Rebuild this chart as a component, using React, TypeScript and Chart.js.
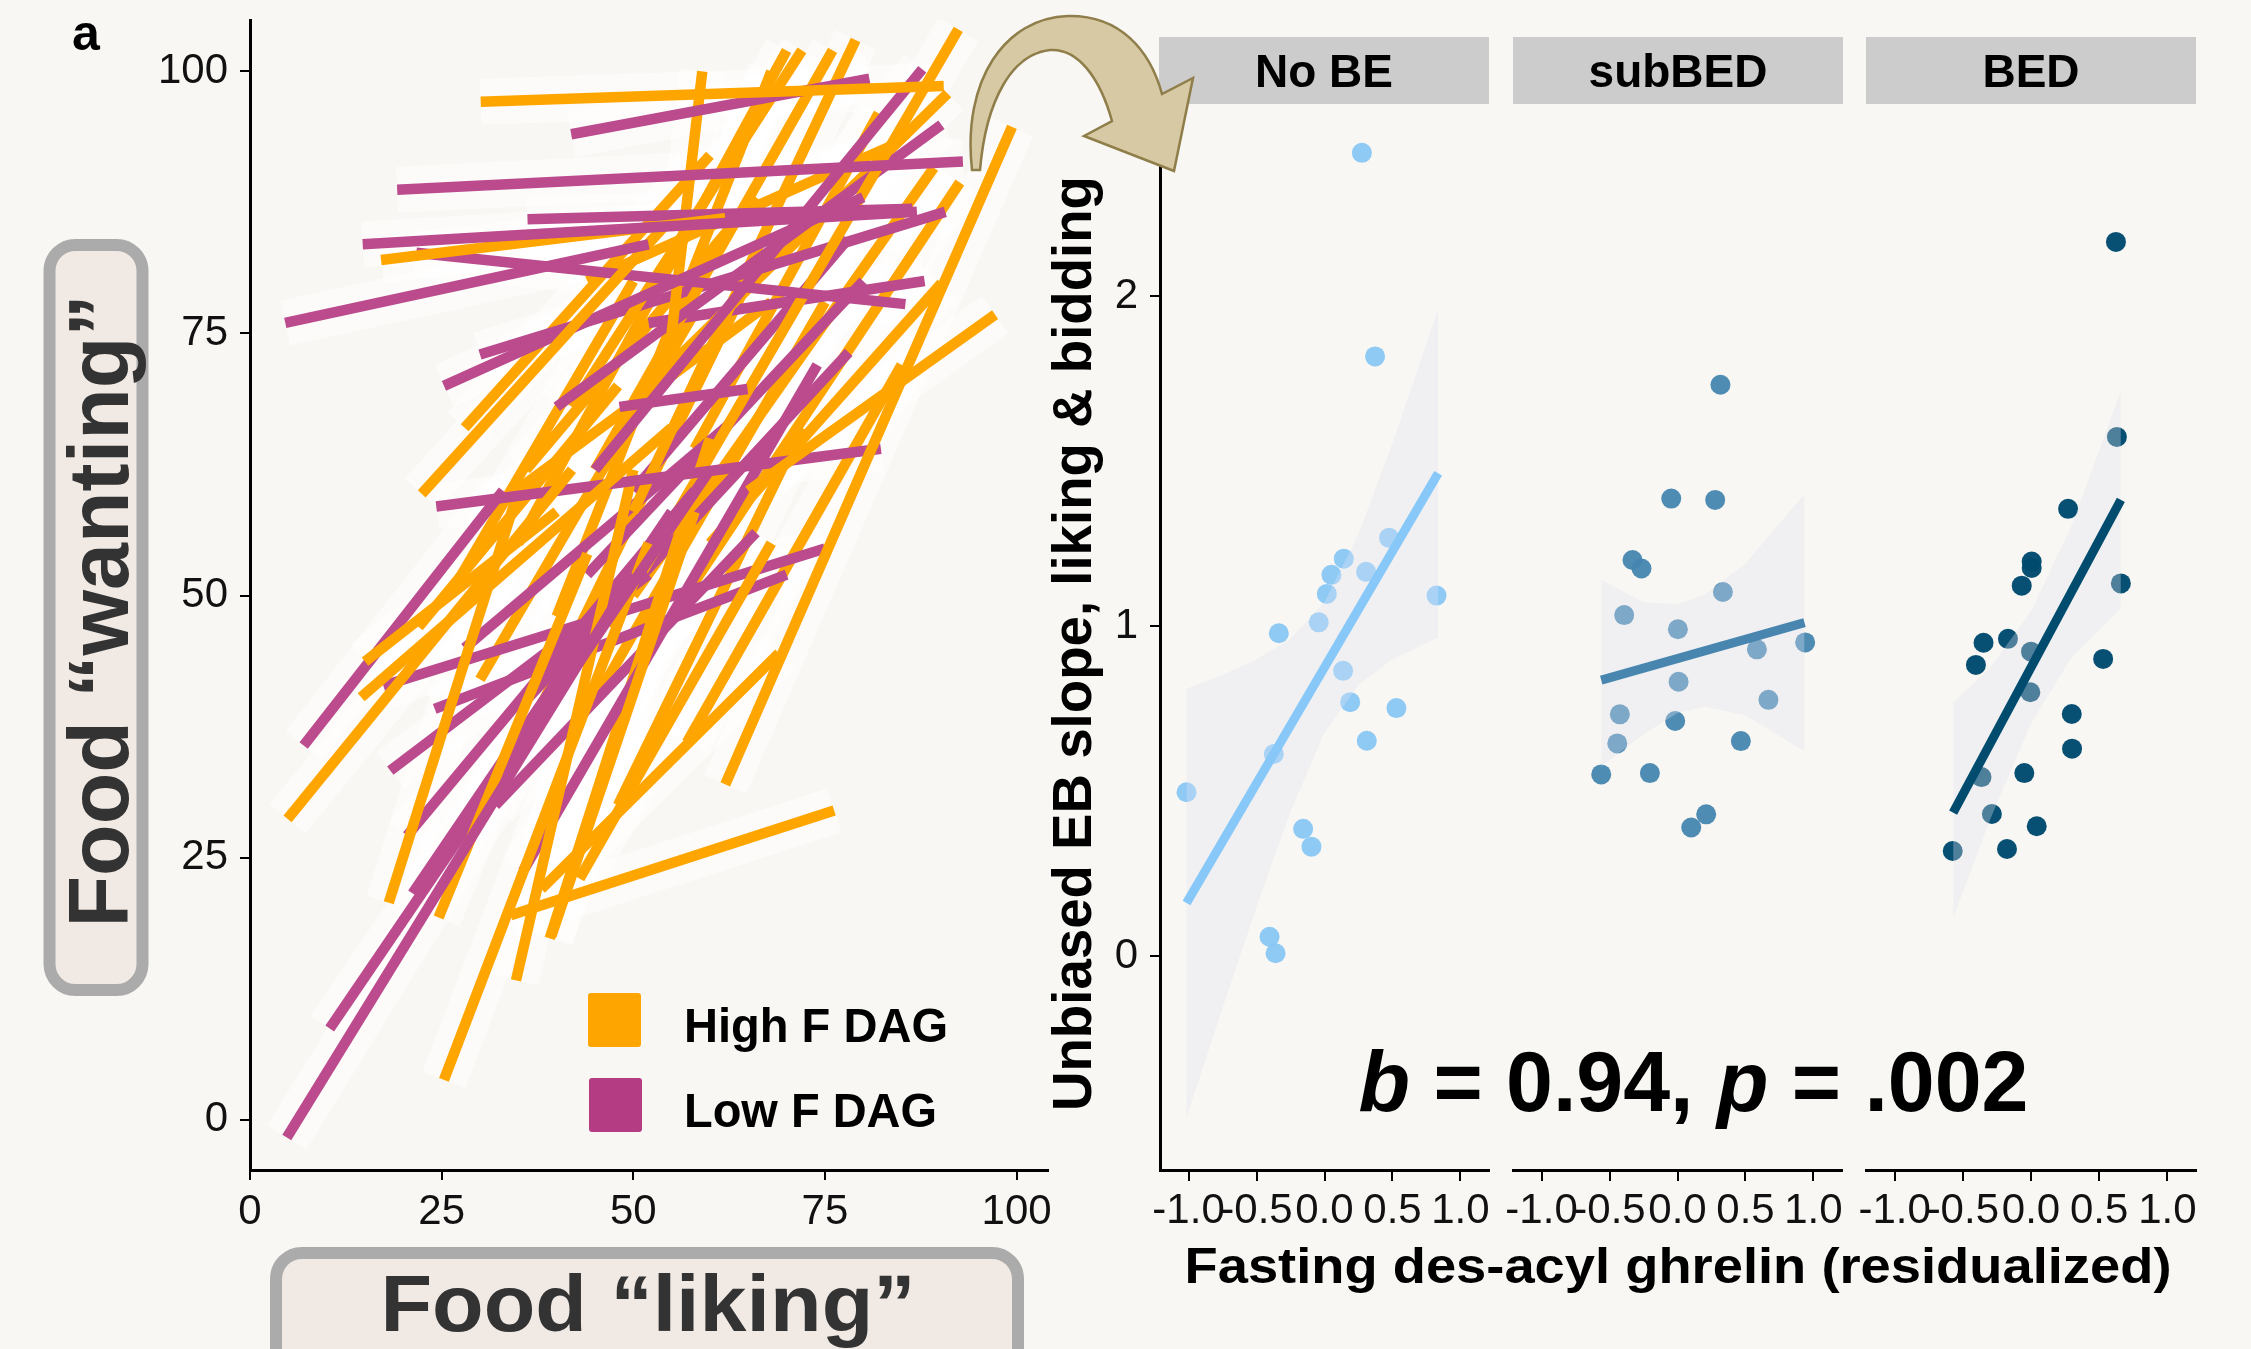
import React, { useEffect, useRef } from 'react';
import { Chart, registerables } from 'chart.js';
Chart.register(...registerables);

const FONT = "'Liberation Sans', Arial, Helvetica, sans-serif";
const BG = '#f8f7f3';
const ORANGE = '#ffa500';
const MAGENTA = '#bb4b8d';
const HALO = 'rgba(255,255,255,0.5)';
const BAND = 'rgba(225,228,240,0.32)';

// ---------- Left panel: food liking vs wanting, one fitted segment per participant ----------
const LIKING_TICKS = [0, 25, 50, 75, 100];
const WANTING_TICKS = [0, 25, 50, 75, 100];

// [liking start, wanting start, liking end, wanting end]
const HIGH_F_DAG_SEGMENTS: number[][] = [
  [30.1, 97.1, 90.5, 98.6],
  [62, 32, 99.4, 94.7],
  [65, 60, 97.2, 76.8],
  [17.1, 82, 62, 86],
  [22.4, 59.7, 55, 86],
  [4.9, 28.7, 42, 62],
  [14.5, 40.3, 55, 66],
  [15, 43.7, 40, 58],
  [18.1, 20.7, 35, 60],
  [24.6, 19.3, 44, 54],
  [25.3, 3.8, 52, 55],
  [34.7, 13.3, 50, 62],
  [39.3, 17.5, 58, 58],
  [34, 19.5, 76.2, 29.5],
  [43, 23, 68, 55],
  [39.1, 17.3, 60, 65],
  [38, 22, 69, 44.5],
  [47, 47, 92.4, 104],
  [55, 75, 59, 100],
  [42, 68, 72, 102],
  [45, 62, 76, 102],
  [50, 58, 79, 103],
  [35, 55, 70, 102],
  [40, 48, 68, 100],
  [52, 70, 91, 97.9],
  [60, 55, 90.2, 79.8],
  [55, 48, 92.6, 89.4],
  [50, 50, 89.2, 90.8],
  [28, 66, 60, 92],
  [22, 47, 48, 70],
  [30, 42, 58, 77],
  [35, 35, 65, 80],
  [45, 40, 75, 78],
  [48, 30, 72, 66],
  [26, 50, 50, 80],
  [31, 58, 68, 78],
  [57, 36, 85, 72],
  [44, 80, 84, 93],
  [36, 62, 66, 88],
  [58, 64, 82, 96],
];

const LOW_F_DAG_SEGMENTS: number[][] = [
  [4.6, 76, 52, 83.5],
  [14.7, 83.5, 87, 86.6],
  [19.2, 88.7, 93, 91.4],
  [41.9, 94, 80.8, 99.3],
  [36.2, 85.9, 86.4, 86.9],
  [21.7, 82.7, 85.5, 77.8],
  [25.3, 70, 80, 88],
  [24.3, 58.5, 82.3, 64],
  [48.2, 68, 64.9, 69.7],
  [4.8, -1.7, 50, 52],
  [10.4, 8.7, 60, 62],
  [7, 35.7, 33, 60],
  [18.3, 33.3, 52, 52],
  [20.5, 27.1, 58, 60],
  [21.2, 21.6, 55, 58],
  [35.6, 23.7, 74, 72],
  [17.4, 41.4, 75, 54.5],
  [24.1, 39.2, 70, 52],
  [45, 62, 87.7, 100.2],
  [40, 68, 90.2, 94.9],
  [36, 40, 78.1, 73.2],
  [30, 73, 90.7, 86.6],
  [28, 45, 62, 66],
  [44, 52, 80, 80],
  [50, 60, 78, 84],
  [32, 30, 66, 56],
  [52, 76, 88, 80],
];

// ---------- Right panels: EB slope vs fasting des-acyl ghrelin ----------
const GHRELIN_TICKS = [-1, -0.5, 0, 0.5, 1];
const EB_TICKS = [0, 1, 2];
const FACET_LABELS = ['No BE', 'subBED', 'BED'];
const FACET_COLORS = ['rgba(133,198,245,0.92)', 'rgba(70,134,176,0.95)', 'rgba(0,74,110,0.97)'];
const FACET_LINE_COLORS = ['#87c8f8', '#4886b0', '#004b6e'];

const NOBE_X = [-1.015, -0.373, -0.336, -0.042, 0.017, 0.051, 0.142, 0.306, 0.475, 0.824, 0.137, 0.189, 0.529, 0.311, -0.157, -0.096, -0.404, -0.36, 0.275, 0.372];
const NOBE_Y = [0.497, 0.613, 0.979, 1.012, 1.098, 1.156, 1.205, 1.165, 1.268, 1.093, 0.865, 0.77, 0.752, 0.653, 0.386, 0.332, 0.059, 0.009, 2.435, 1.818];
const SUBBED_X = [-0.046, 0.277, -0.331, -0.265, 0.334, -0.392, 0.003, 0.584, 0.939, 0.008, 0.669, -0.424, -0.017, -0.443, 0.466, -0.561, -0.203, 0.211, 0.101, 0.316];
const SUBBED_Y = [1.387, 1.383, 1.201, 1.175, 1.104, 1.034, 0.991, 0.93, 0.951, 0.832, 0.777, 0.733, 0.713, 0.645, 0.652, 0.551, 0.555, 0.43, 0.39, 1.732];
const BED_X = [0.005, 0.005, -0.068, 0.659, -0.348, -0.169, -0.404, 0.0, 0.529, -0.005, 0.299, 0.301, -0.363, -0.049, -0.287, 0.042, -0.574, -0.176, 0.623, 0.63, 0.272];
const BED_Y = [1.196, 1.177, 1.123, 1.13, 0.95, 0.962, 0.883, 0.923, 0.901, 0.8, 0.734, 0.629, 0.543, 0.555, 0.431, 0.394, 0.319, 0.325, 2.165, 1.574, 1.356];

const NOBE_FIT_X = [-1.015, 0.836];
const NOBE_FIT_Y = [0.161, 1.464];
const SUBBED_FIT_X = [-0.561, 0.934];
const SUBBED_FIT_Y = [0.837, 1.011];
const BED_FIT_X = [-0.571, 0.659];
const BED_FIT_Y = [0.435, 1.383];

const NOBE_BAND_X = [-1.015, -0.75, -0.5, -0.25, 0, 0.25, 0.5, 0.836];
const NOBE_BAND_LO = [-0.489, -0.157, 0.149, 0.438, 0.677, 0.823, 0.9, 0.966];
const NOBE_BAND_HI = [0.811, 0.853, 0.899, 0.962, 1.073, 1.279, 1.554, 1.962];
const SUBBED_BAND_X = [-0.561, -0.25, 0, 0.2, 0.5, 0.934];
const SUBBED_BAND_LO = [0.575, 0.673, 0.737, 0.756, 0.73, 0.621];
const SUBBED_BAND_HI = [1.14, 1.073, 1.067, 1.096, 1.19, 1.401];
const BED_BAND_X = [-0.571, -0.3, 0, 0.3, 0.659];
const BED_BAND_LO = [0.115, 0.414, 0.705, 0.907, 1.053];
const BED_BAND_HI = [0.768, 0.874, 1.045, 1.307, 1.713];

const FACET_SERIES = [
  { x: NOBE_X, y: NOBE_Y, fx: NOBE_FIT_X, fy: NOBE_FIT_Y, bx: NOBE_BAND_X, lo: NOBE_BAND_LO, hi: NOBE_BAND_HI },
  { x: SUBBED_X, y: SUBBED_Y, fx: SUBBED_FIT_X, fy: SUBBED_FIT_Y, bx: SUBBED_BAND_X, lo: SUBBED_BAND_LO, hi: SUBBED_BAND_HI },
  { x: BED_X, y: BED_Y, fx: BED_FIT_X, fy: BED_FIT_Y, bx: BED_BAND_X, lo: BED_BAND_LO, hi: BED_BAND_HI },
];

const W = 2251;
const H = 1349;

// canvas placement per facet: left, width, padLeft, padRight, yAxisWidth
const FACET_CANVAS = [
  { left: 1000, width: 520, padL: 0, padR: 31, yW: 160 },
  { left: 1490, width: 380, padL: 23, padR: 28, yW: 0 },
  { left: 1843, width: 400, padL: 23, padR: 47, yW: 0 },
];

function pts(xs: number[], ys: number[]) {
  return xs.map((x, i) => ({ x, y: ys[i] }));
}

function segDataset(seg: number[], color: string, width: number, order: number) {
  return {
    data: [{ x: seg[0], y: seg[1] }, { x: seg[2], y: seg[3] }],
    showLine: true,
    borderColor: color,
    backgroundColor: color,
    borderWidth: width,
    borderCapStyle: 'butt',
    pointRadius: 0,
    pointHoverRadius: 0,
    fill: false,
    order,
  };
}

function axis(opts: {
  min: number; max: number; ticks: number[]; size: number; fixed: number; isX: boolean;
  display?: boolean; fmt: (v: number) => string; pad: number; tickLen: number;
}) {
  return {
    type: 'linear',
    display: opts.display === undefined ? true : opts.display,
    min: opts.min,
    max: opts.max,
    afterBuildTicks: (s: any) => {
      s.ticks = opts.ticks.map((v) => ({ value: v }));
    },
    afterFit: (s: any) => {
      if (opts.isX) s.height = opts.fixed;
      else s.width = opts.fixed;
      s.paddingTop = 0;
      s.paddingBottom = 0;
      s.paddingLeft = 0;
      s.paddingRight = 0;
    },
    ticks: {
      autoSkip: false,
      maxRotation: 0,
      minRotation: 0,
      padding: opts.pad,
      color: '#111',
      font: { family: FONT, size: opts.size },
      callback: (v: any) => opts.fmt(Number(v)),
    },
    grid: {
      display: true,
      drawOnChartArea: false,
      drawTicks: true,
      tickLength: opts.tickLen,
      tickWidth: 2,
      lineWidth: 2,
      color: '#000',
    },
    border: { display: true, color: '#000', width: 3 },
  };
}

export default function App() {
  const leftRef = useRef<HTMLCanvasElement>(null);
  const f0 = useRef<HTMLCanvasElement>(null);
  const f1 = useRef<HTMLCanvasElement>(null);
  const f2 = useRef<HTMLCanvasElement>(null);

  useEffect(() => {
    document.body.style.margin = '0';
    document.body.style.background = BG;
    const charts: Chart[] = [];

    // ----- left chart -----
    const lines: any[] = [];
    const halos: any[] = [];
    const n = Math.max(HIGH_F_DAG_SEGMENTS.length, LOW_F_DAG_SEGMENTS.length);
    for (let i = 0; i < n; i++) {
      if (i < LOW_F_DAG_SEGMENTS.length) {
        lines.push(segDataset(LOW_F_DAG_SEGMENTS[i], MAGENTA, 10.5, 1));
        halos.push(segDataset(LOW_F_DAG_SEGMENTS[i], HALO, 46, 2));
      }
      if (i < HIGH_F_DAG_SEGMENTS.length) {
        lines.push(segDataset(HIGH_F_DAG_SEGMENTS[i], ORANGE, 10.5, 1));
        halos.push(segDataset(HIGH_F_DAG_SEGMENTS[i], HALO, 46, 2));
      }
    }
    if (leftRef.current) {
      charts.push(
        new Chart(leftRef.current, {
          type: 'scatter',
          data: { datasets: [...lines, ...halos] as any },
          options: {
            animation: false,
            responsive: false,
            devicePixelRatio: 1,
            layout: { padding: { left: 0, top: 20, right: 22, bottom: 0 } },
            plugins: { legend: { display: false }, tooltip: { enabled: false } },
            events: [],
            scales: {
              x: axis({ min: 0, max: 104.1, ticks: LIKING_TICKS, size: 42, fixed: 179, isX: true, fmt: (v) => String(v), pad: 7, tickLen: 10 }) as any,
              y: axis({ min: -4.79, max: 104.9, ticks: WANTING_TICKS, size: 42, fixed: 250, isX: false, fmt: (v) => String(v), pad: 12, tickLen: 10 }) as any,
            },
          },
        })
      );
    }

    // ----- facet charts -----
    [f0, f1, f2].forEach((ref, i) => {
      if (!ref.current) return;
      const s = FACET_SERIES[i];
      const c = FACET_CANVAS[i];
      charts.push(
        new Chart(ref.current, {
          type: 'scatter',
          data: {
            datasets: [
              {
                data: pts(s.fx, s.fy),
                showLine: true,
                borderColor: FACET_LINE_COLORS[i],
                borderWidth: 9,
                borderCapStyle: 'butt',
                pointRadius: 0,
                fill: false,
                order: 1,
              },
              {
                data: pts(s.bx, s.lo),
                showLine: true,
                borderWidth: 0,
                borderColor: 'rgba(0,0,0,0)',
                pointRadius: 0,
                fill: false,
                order: 2,
              },
              {
                data: pts(s.bx, s.hi),
                showLine: true,
                borderWidth: 0,
                borderColor: 'rgba(0,0,0,0)',
                backgroundColor: BAND,
                pointRadius: 0,
                fill: '-1',
                order: 2,
              },
              {
                data: pts(s.x, s.y),
                showLine: false,
                pointRadius: 10,
                pointBorderWidth: 0,
                pointBackgroundColor: FACET_COLORS[i],
                backgroundColor: FACET_COLORS[i],
                order: 3,
              },
            ] as any,
          },
          options: {
            animation: false,
            responsive: false,
            devicePixelRatio: 1,
            layout: { padding: { left: c.padL, top: 104, right: c.padR, bottom: 0 } },
            plugins: { legend: { display: false }, tooltip: { enabled: false } },
            events: [],
            scales: {
              x: axis({ min: -1.21, max: 1.21, ticks: GHRELIN_TICKS, size: 42, fixed: 179, isX: true, fmt: (v) => v.toFixed(1), pad: 5, tickLen: 11 }) as any,
              y: axis({ min: -0.648, max: 2.583, ticks: EB_TICKS, size: 42, fixed: c.yW, isX: false, display: i === 0, fmt: (v) => String(v), pad: 12, tickLen: 10 }) as any,
            },
          },
        })
      );
    });

    return () => charts.forEach((ch) => ch.destroy());
  }, []);

  const stripX = [1159, 1513, 1866];
  const facetRefs = [f0, f1, f2];

  return (
    <div style={{ position: 'relative', width: W, height: H, background: BG, overflow: 'hidden', fontFamily: FONT }}>
      <canvas ref={leftRef} width={1070} height={H} style={{ position: 'absolute', left: 0, top: 0, width: 1070, height: H }} />
      {FACET_CANVAS.map((c, i) => (
        <canvas
          key={i}
          ref={facetRefs[i]}
          width={c.width}
          height={H}
          style={{ position: 'absolute', left: c.left, top: 0, width: c.width, height: H }}
        />
      ))}
      <svg width={W} height={H} style={{ position: 'absolute', left: 0, top: 0, pointerEvents: 'none' }} fontFamily={FONT}>
        <text x={72} y={50} fontSize={50} fontWeight="bold" fill="#000">a</text>

        {/* y title box (left) */}
        <rect x={49.5} y={245} width={93} height={745} rx={26} fill="#f1e9e3" stroke="#ababab" strokeWidth={12} />
        <text transform="translate(128,611) rotate(-90)" textAnchor="middle" fontSize={86} fontWeight="bold" fill="#333" textLength={633} lengthAdjust="spacingAndGlyphs">Food “wanting”</text>

        {/* x title box (left) */}
        <rect x={276} y={1253} width={742} height={170} rx={26} fill="#f1e9e3" stroke="#ababab" strokeWidth={12} />
        <text x={648} y={1331} textAnchor="middle" fontSize={80} fontWeight="bold" fill="#333" textLength={535} lengthAdjust="spacingAndGlyphs">Food “liking”</text>

        {/* legend */}
        <rect x={588} y={993} width={53} height={54} rx={3} fill="#ffa500" />
        <rect x={589} y={1078} width={53} height={54} rx={3} fill="#b43c82" />
        <text x={684} y={1042} fontSize={48} fontWeight="bold" fill="#000" textLength={264} lengthAdjust="spacingAndGlyphs">High F DAG</text>
        <text x={684} y={1127} fontSize={48} fontWeight="bold" fill="#000" textLength={253} lengthAdjust="spacingAndGlyphs">Low F DAG</text>

        {/* facet strips */}
        {FACET_LABELS.map((lab, i) => (
          <g key={lab}>
            <rect x={stripX[i]} y={37} width={330} height={67} fill="#cccccc" />
            <text x={stripX[i] + 165} y={87} textAnchor="middle" fontSize={46} fontWeight="bold" fill="#000">{lab}</text>
          </g>
        ))}

        {/* right axis titles */}
        <text transform="translate(1091,643.5) rotate(-90)" textAnchor="middle" fontSize={56} fontWeight="bold" fill="#000" textLength={935} lengthAdjust="spacingAndGlyphs">Unbiased EB slope, liking &amp; bidding</text>
        <text x={1678} y={1283} textAnchor="middle" fontSize={50} fontWeight="bold" fill="#000" textLength={987} lengthAdjust="spacingAndGlyphs">Fasting des-acyl ghrelin (residualized)</text>

        {/* statistic */}
        <text x={1693.5} y={1111} textAnchor="middle" fontSize={86} fontWeight="bold" fill="#000" textLength={670} lengthAdjust="spacingAndGlyphs">
          <tspan fontStyle="italic">b</tspan> = 0.94, <tspan fontStyle="italic">p</tspan> = .002
        </text>

        {/* curved arrow */}
        <path
          d="M972,170 C962,80 1005,18 1068,16 C1120,15 1150,50 1162,94 L1193,78 L1174,171 L1084,136 L1112,121 C1100,78 1078,48 1050,50 C1012,54 986,100 980,170 Z"
          fill="#d6c9a3"
          stroke="#8f7d4a"
          strokeWidth={2.5}
          strokeLinejoin="miter"
        />
      </svg>
    </div>
  );
}
